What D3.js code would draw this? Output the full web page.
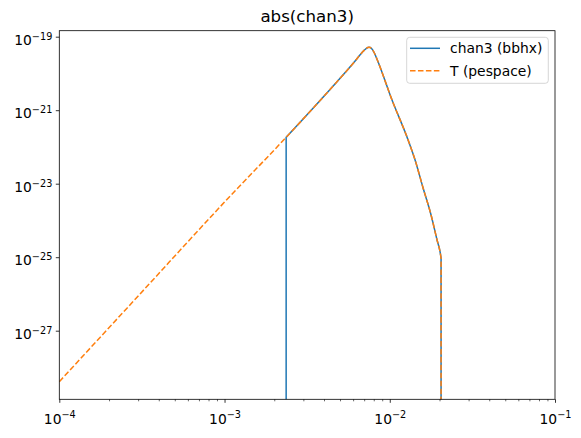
<!DOCTYPE html>
<html>
<head>
<meta charset="utf-8">
<script src="https://cdn.jsdelivr.net/npm/d3@7"></script>
<style>
  body { margin: 0; background: #fff; }
  text { font-family: "DejaVu Sans", sans-serif; fill: #000; }
</style>
</head>
<body>
<div id="chart"></div>
<script>
(function(d3) {
  'use strict';

  // T (pespace)
  var freqT = [1e-4, 3.08e-4, 1e-3, 2.36e-3, 4.35e-3, 6.17e-3, 6.80e-3, 7.19e-3, 7.49e-3, 7.76e-3,
               8.07e-3, 8.41e-3, 1.032e-2, 1.291e-2, 1.423e-2, 1.591e-2, 1.778e-2, 1.933e-2,
               2.016e-2, 2.044e-2];
  var valsT = [4.09e-29, 9.97e-27, 3.16e-24, 1.83e-22, 3.66e-21, 2.18e-20, 3.72e-20, 4.77e-20, 5.15e-20, 4.77e-20,
               3.60e-20, 2.32e-20, 1.89e-21, 1.55e-22, 4.41e-23, 7.64e-24, 1.41e-24, 2.94e-25,
               1.39e-25, 9.51e-26];

  // chan3 (bbhx): zero outside ~2.36e-3 .. 2.04e-2
  var freqC = [2.36e-3, 4.35e-3, 6.17e-3, 6.80e-3, 7.19e-3, 7.49e-3, 7.76e-3,
               8.07e-3, 8.41e-3, 1.032e-2, 1.291e-2, 1.423e-2, 1.591e-2, 1.778e-2, 1.933e-2,
               2.016e-2, 2.044e-2];
  var valsC = [1.83e-22, 3.66e-21, 2.18e-20, 3.72e-20, 4.77e-20, 5.15e-20, 4.77e-20,
               3.60e-20, 2.32e-20, 1.89e-21, 1.55e-22, 4.41e-23, 7.64e-24, 1.41e-24, 2.94e-25,
               1.39e-25, 9.51e-26];
  var zeroFloor = 1e-35; // zeros drop below the axis

  var xTicks = [1e-4, 1e-3, 1e-2, 1e-1];
  var xTickExp = ['−4', '−3', '−2', '−1'];
  var yTicks = [1e-19, 1e-21, 1e-23, 1e-25, 1e-27];
  var yTickExp = ['−19', '−21', '−23', '−25', '−27'];
  var seriesNames = ['chan3 (bbhx)', 'T (pespace)'];

  var width = 581, height = 438;
  var margin = {left: 59.3, top: 30.7, right: 26, bottom: 38.7};
  var w = width - margin.left - margin.right;
  var h = height - margin.top - margin.bottom;

  var x = d3.scaleLog().domain([1e-4, 1e-1]).range([0, w]);
  var y = d3.scaleLog().domain([Math.pow(10, -28.867), Math.pow(10, -18.837)]).range([h, 0]);

  var minorX = [];
  xTicks.slice(0, -1).forEach(function(t) {
    for (var k = 2; k <= 9; k++) minorX.push(t * k);
  });

  var svg = d3.select('#chart').append('svg')
    .attr('width', width)
    .attr('height', height);

  svg.append('text')
    .attr('x', margin.left + w / 2)
    .attr('y', 22.4)
    .attr('text-anchor', 'middle')
    .style('font-size', '16.67px')
    .text('abs(chan3)');

  var g = svg.append('g')
    .attr('transform', 'translate(' + margin.left + ',' + margin.top + ')');

  g.append('clipPath').attr('id', 'clip')
    .append('rect').attr('width', w).attr('height', h);

  var line = d3.line()
    .x(function(d) { return x(d[0]); })
    .y(function(d) { return y(d[1]); })
    .curve(d3.curveMonotoneX);

  // smooth curve, plus straight vertical drops where the series hits zero
  function seriesPath(fs, vs, dropStart, dropEnd) {
    var pts = fs.map(function(f, i) { return [f, vs[i]]; });
    var p = line(pts);
    var first = pts[0], last = pts[pts.length - 1];
    if (dropStart) p = 'M' + x(first[0]) + ',' + y(zeroFloor) + 'L' + p.slice(1);
    if (dropEnd) p += 'L' + x(last[0]) + ',' + y(zeroFloor);
    return p;
  }

  g.append('path')
    .attr('clip-path', 'url(#clip)')
    .attr('d', seriesPath(freqC, valsC, true, true))
    .attr('fill', 'none')
    .attr('stroke', '#1f77b4')
    .attr('stroke-width', 1.5);

  g.append('path')
    .attr('clip-path', 'url(#clip)')
    .attr('d', seriesPath(freqT, valsT, false, true))
    .attr('fill', 'none')
    .attr('stroke', '#ff7f0e')
    .attr('stroke-width', 1.5)
    .attr('stroke-dasharray', '5.55,2.4');

  // spines
  g.append('rect')
    .attr('width', w).attr('height', h)
    .attr('fill', 'none')
    .attr('stroke', '#000')
    .attr('stroke-width', 0.8);

  // minor x ticks
  var xMinor = g.append('g')
    .attr('transform', 'translate(0,' + h + ')')
    .call(d3.axisBottom(x).tickValues(minorX).tickSize(2).tickFormat(''));
  xMinor.select('.domain').remove();
  xMinor.selectAll('line').attr('stroke-width', 0.6);

  // major x ticks
  var xAxis = g.append('g')
    .attr('transform', 'translate(0,' + h + ')')
    .call(d3.axisBottom(x).tickValues(xTicks).tickSize(3.5).tickPadding(3.5).tickFormat(''));
  xAxis.select('.domain').remove();
  xAxis.selectAll('line').attr('stroke-width', 0.8);
  xAxis.selectAll('.tick text').each(function(d, i) {
    var t = d3.select(this)
      .attr('y', 24.7).attr('dy', null)
      .attr('text-anchor', 'middle')
      .style('font-size', '13.89px')
      .attr('font-family', null);
    t.append('tspan').text('10');
    t.append('tspan').attr('dy', -5.5).style('font-size', '9.7px').text(xTickExp[i]);
  });

  // y ticks
  var yAxis = g.append('g')
    .call(d3.axisLeft(y).tickValues(yTicks).tickSize(3.5).tickPadding(3.5).tickFormat(''));
  yAxis.select('.domain').remove();
  yAxis.selectAll('line').attr('stroke-width', 0.8);
  yAxis.selectAll('.tick text').each(function(d, i) {
    var t = d3.select(this)
      .attr('dy', null).attr('y', 7.3)
      .attr('text-anchor', 'end')
      .style('font-size', '13.89px')
      .attr('font-family', null);
    t.append('tspan').text('10');
    t.append('tspan').attr('dy', -5).style('font-size', '9.7px').text(yTickExp[i]);
  });
  d3.selectAll('.tick text').attr('fill', '#000');

  // legend
  var lg = g.append('g')
    .attr('transform', 'translate(' + (406.7 - margin.left) + ',' + (37.3 - margin.top) + ')');
  lg.append('rect')
    .attr('width', 141.6).attr('height', 46)
    .attr('rx', 3).attr('ry', 3)
    .attr('fill', '#fff').attr('fill-opacity', 0.8)
    .attr('stroke', '#ccc').attr('stroke-width', 0.8);
  var colors = ['#1f77b4', '#ff7f0e'];
  var dashes = [null, '5.55,2.4'];
  seriesNames.forEach(function(name, i) {
    var yy = 11 + i * 22.4;
    lg.append('line')
      .attr('x1', 3.3).attr('x2', 33.3)
      .attr('y1', yy).attr('y2', yy)
      .attr('stroke', colors[i])
      .attr('stroke-width', 1.5)
      .attr('stroke-dasharray', dashes[i]);
    lg.append('text')
      .attr('x', 43.3).attr('y', yy + 5)
      .style('font-size', '13.89px')
      .text(name);
  });

})(window.d3);
</script>
</body>
</html>
